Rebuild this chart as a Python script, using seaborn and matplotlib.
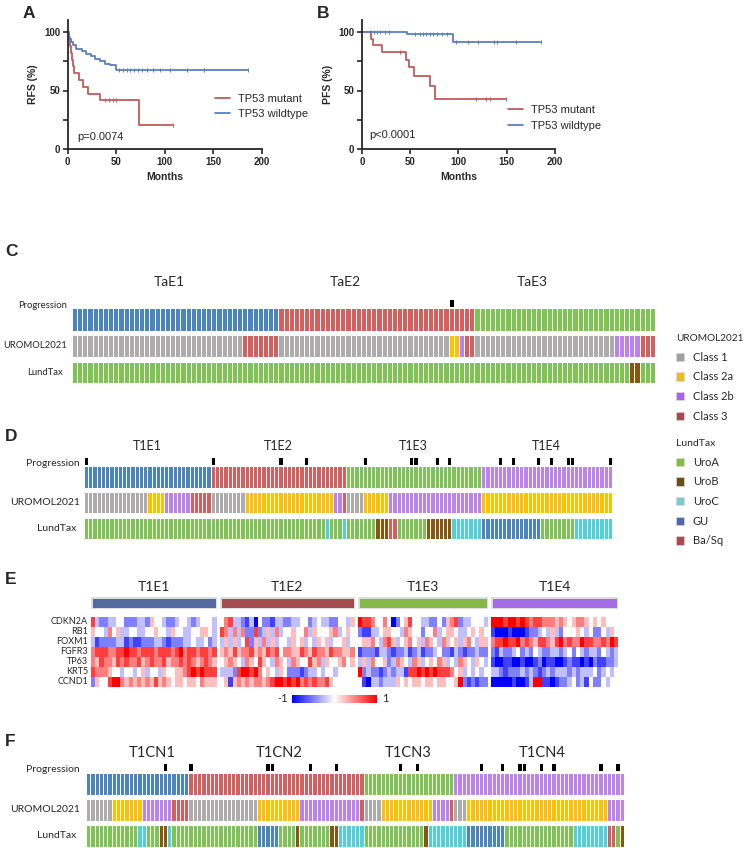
import numpy as np
import pandas as pd
import matplotlib
matplotlib.use("Agg")
import matplotlib.pyplot as plt
import seaborn as sns
from matplotlib.colors import ListedColormap
from matplotlib.patches import Patch
from matplotlib.lines import Line2D

# ---- A/B: Kaplan-Meier step data (months, % event free) ----
rfs_mut_t = [0, 1, 2, 3, 4, 5, 6.5, 11.5, 16, 21, 33, 73]
rfs_mut_s = [100, 94, 88, 82, 76, 71, 65, 59, 53, 47, 41.8, 20.9]
rfs_mut_end = 109
rfs_mut_cens = [38, 43, 47, 50, 109]
rfs_wt_t = [0, 0.7, 1.4, 2.1, 3, 5.8, 8.6, 14.4, 18.9, 23.7, 28.2, 33.3, 38.5, 43.6, 49.8]
rfs_wt_s = [100, 98, 96, 94, 91.5, 88.6, 85.8, 83.8, 81.5, 79.3, 77.3, 75, 73, 71.6, 67.9]
rfs_wt_end = 186
rfs_wt_cens = [53, 57, 61, 64, 68, 72, 77, 82, 88, 95, 105, 123, 140, 141, 186]

pfs_mut_t = [0, 9.4, 11, 21.2, 45.9, 48.6, 53.4, 70.5, 76]
pfs_mut_s = [100, 94.3, 88.6, 83, 75.9, 70, 62, 53.7, 42.6]
pfs_mut_end = 149
pfs_mut_cens = [39, 118, 128, 133, 149]
pfs_wt_t = [0, 46.9, 93.8]
pfs_wt_s = [100, 98, 91.8]
pfs_wt_end = 186
pfs_wt_cens = [8, 12, 16, 19, 24, 28, 55, 60, 63, 66, 70, 74, 78, 83, 88, 97,
               110, 120, 137, 140, 160, 186]

# ---- C/D/F: annotation tracks as (category, run length) ----
c_groups = ["TaE1", "TaE2", "TaE3"]
c_sizes = [40, 38, 35]
c_uromol = [("Class 1", 33), ("Class 3", 7), ("Class 1", 33), ("Class 2a", 2),
            ("Class 2b", 1), ("Class 3", 2), ("Class 1", 27), ("Class 2b", 5),
            ("Class 3", 3)]
c_lund = [("UroA", 108), ("UroB", 2), ("UroA", 3)]
c_prog = [73]

d_groups = ["T1E1", "T1E2", "T1E3", "T1E4"]
d_sizes = [30, 32, 32, 31]
d_uromol = [("Class 1", 15), ("Class 2a", 4), ("Class 2b", 6), ("Class 3", 5),
            ("Class 1", 8), ("Class 2a", 21), ("Class 2b", 2), ("Class 3", 1),
            ("Class 1", 4), ("Class 2a", 6), ("Class 2b", 22), ("Class 2a", 31)]
d_lund = [("UroA", 57), ("UroC", 1), ("UroA", 3), ("UroC", 1), ("UroA", 7),
          ("UroB", 3), ("Ba/Sq", 2), ("UroA", 7), ("UroB", 6), ("UroC", 7),
          ("GU", 14), ("UroA", 8), ("UroC", 9)]
d_prog = [0, 30, 46, 52, 66, 77, 78, 83, 86, 98, 101, 107, 110, 114, 115, 124]

f_groups = ["T1CN1", "T1CN2", "T1CN3", "T1CN4"]
f_sizes = [24, 41, 21, 40]
f_uromol = [("Class 1", 6), ("Class 2a", 7), ("Class 2b", 7), ("Class 3", 4),
            ("Class 1", 16), ("Class 2a", 10), ("Class 2b", 14), ("Class 3", 1),
            ("Class 1", 4), ("Class 2a", 12), ("Class 2b", 4), ("Class 3", 1),
            ("Class 1", 3), ("Class 2a", 33), ("Class 2b", 4)]
f_lund = [("UroA", 12), ("UroC", 2), ("UroA", 3), ("UroB", 2), ("UroC", 1),
          ("UroA", 20), ("GU", 5), ("UroA", 4), ("UroB", 1), ("UroA", 7),
          ("UroB", 2), ("UroC", 6), ("UroA", 14), ("UroB", 1), ("UroC", 9),
          ("GU", 9), ("UroA", 16), ("UroC", 8), ("Ba/Sq", 2), ("UroA", 1),
          ("UroB", 1)]
f_prog = [18, 24, 42, 43, 52, 58, 73, 77, 92, 97, 101, 102, 106, 109, 120, 124]

# ---- E: expression, one string per cluster, 0 = -1 ... 4 = 0 ... 8 = +1 ----
genes = ["CDKN2A", "RB1", "FOXM1", "FGFR3", "TP63", "KRT5", "CCND1"]
cdkn2a = ["73223 34422 23325 44322 34432 34443",
          "46733 21304 22133 22334 42343 32244 35",
          "87764 46402 45744 33224 25672 33444 3",
          "88878 87876 77666 56545 66545 45444"]
rb1 = ["54436 45334 43344 54435 44334 45543",
       "76363 62272 35363 44544 63544 45634 54",
       "21133 45544 36544 24463 45543 34545 4",
       "10001 00012 23435 32444 54342 24354"]
foxm1 = ["31222 23312 11222 33212 22334 33423",
         "35353 47253 63534 43545 34354 53445 34",
         "45564 36753 45645 36543 65453 56435 5",
         "67787 78676 57765 78676 68776 67687"]
fgfr3 = ["67776 67787 76777 67776 78677 67767",
         "56575 66756 57674 66557 65766 57665 56",
         "12221 33212 23123 12234 22132 12232 2",
         "21322 34232 43223 32342 43233 24323"]
tp63 = ["65766 57676 67567 66756 67676 56765",
        "45654 36547 54365 43654 47563 54456 45",
        "35364 45236 54365 34546 53436 54354 3",
        "10011 00100 12011 00121 10102 11223"]
krt5 = ["76665 44344 34534 43544 55678 78777",
        "33327 88786 45435 42221 23343 44344 44",
        "82322 12323 31778 78787 77645 34343 4",
        "33212 22323 21232 33323 23334 23434"]
ccnd1 = ["25447 88656 56565 75654 55455 46555",
         "45156 56566 56788 78786 76766 75444 44",
         "41033 23335 45455 45545 54458 21212 2",
         "00000 10013 88110 12234 23142 24344"]
expr_rows = [cdkn2a, rb1, foxm1, fgfr3, tp63, krt5, ccnd1]

# ---- colours ----
cluster_colors = ["#4a85bd", "#d35f5f", "#7dc453", "#bd82ee"]
uromol_names = ["Class 1", "Class 2a", "Class 2b", "Class 3"]
uromol_colors = ["#adabab", "#ffc000", "#bd82ee", "#d35f5f"]
lund_names = ["UroA", "UroB", "UroC", "GU", "Ba/Sq"]
lund_colors = ["#7dc453", "#8a560e", "#4ed1dc", "#4a85bd", "#d35f5f"]
header_colors = ["#5369a0", "#a34c4f", "#86b847", "#a46ce4"]
leg_uromol_colors = ["#a19f9f", "#ecb731", "#a665e6", "#a84d4f"]
leg_lund_colors = ["#86bb49", "#655018", "#7ccbd1", "#4f69a5", "#a84d4f"]
km_colors = {"TP53 mutant": "#c25b5b", "TP53 wildtype": "#5b7fbf"}

sns.set_style("ticks")
plt.rcParams["font.family"] = ["Liberation Sans", "DejaVu Sans"]
TRACK_FONT = ["Lato", "DejaVu Sans"]

W, H = 747, 848
fig = plt.figure(figsize=(W / 100, H / 100), dpi=100)


def add_ax(x0, y0, x1, y1):
    return fig.add_axes([x0 / W, 1 - y1 / H, (x1 - x0) / W, (y1 - y0) / H])


def ftext(x, y, s, **kw):
    fig.text(x / W, 1 - y / H, s, **kw)


def step_at(times, surv, t):
    i = np.searchsorted(times, t, side="right") - 1
    return surv[i]


def km_panel(ax, curves, ylabel, ptext, p_xy, leg_anchor):
    frames = []
    for label, t, s, end, cens in curves:
        frames.append(pd.DataFrame({"Months": t + [end], "pct": s + [s[-1]], "group": label}))
    df = pd.concat(frames, ignore_index=True)
    sns.lineplot(data=df, x="Months", y="pct", hue="group", palette=km_colors,
                 drawstyle="steps-post", estimator=None, sort=False,
                 linewidth=1.3, ax=ax, legend=False)
    for label, t, s, end, cens in curves:
        cy = [step_at(t, s, c) for c in cens]
        sns.scatterplot(x=cens, y=cy, marker="|", s=10, color=km_colors[label],
                        linewidth=0.7, ax=ax, legend=False, clip_on=False)
    ax.set_xlim(0, 200)
    ax.set_ylim(0, 110)
    ax.set_xticks([0, 50, 100, 150, 200])
    ax.set_yticks([0, 25, 50, 75, 100])
    ax.set_yticklabels(["0", "", "50", "", "100"])
    for lab in ax.get_xticklabels() + ax.get_yticklabels():
        lab.set_fontweight("bold")
    ax.tick_params(labelsize=7, width=1.2, length=3.5, pad=2)
    ax.set_xlabel("Months", fontsize=7.5, fontweight="bold", labelpad=4)
    ax.set_ylabel(ylabel, fontsize=7.5, fontweight="bold", labelpad=4)
    sns.despine(ax=ax)
    for sp in ["left", "bottom"]:
        ax.spines[sp].set_linewidth(1.3)
    ax.text(p_xy[0], p_xy[1], ptext, transform=ax.transAxes, fontsize=8,
            va="center", ha="left")
    handles = [Line2D([], [], color=km_colors[k], lw=1.3) for k in km_colors]
    ax.legend(handles, list(km_colors), loc="center left", bbox_to_anchor=leg_anchor,
              frameon=False, fontsize=8, handlelength=1.35, handletextpad=0.7,
              labelspacing=0.5, borderaxespad=0)


def expand(runs):
    out = []
    for name, n in runs:
        out += [name] * n
    return out


def draw_track(ax, codes, colors):
    sns.heatmap(np.array([codes]), ax=ax, cmap=ListedColormap(colors),
                vmin=-0.5, vmax=len(colors) - 0.5, cbar=False,
                linewidths=0.7, linecolor="white",
                xticklabels=False, yticklabels=False)


def track_panel(x0, x1, rows_y, groups, sizes, uromol, lund, prog,
                label_y, label_fs, label_dx, pad, row_fs):
    n = sum(sizes)
    cl_codes = []
    for i, k in enumerate(sizes):
        cl_codes += [i] * k
    ur_codes = [uromol_names.index(v) for v in expand(uromol)]
    ld_codes = [lund_names.index(v) for v in expand(lund)]

    (m0, m1), (c0, c1), (u0, u1), (l0, l1) = rows_y
    axm = add_ax(x0, m0, x1, m1)
    flags = np.zeros(n)
    flags[prog] = 1
    sns.heatmap(flags[None, :], mask=(flags == 0)[None, :], ax=axm,
                cmap=ListedColormap(["black"]), vmin=0, vmax=1, cbar=False,
                linewidths=0.7, linecolor="white",
                xticklabels=False, yticklabels=False)
    draw_track(add_ax(x0, c0, x1, c1), cl_codes, cluster_colors[:len(sizes)])
    draw_track(add_ax(x0, u0, x1, u1), ur_codes, uromol_colors)
    draw_track(add_ax(x0, l0, x1, l1), ld_codes, lund_colors)

    cw = (x1 - x0) / n
    start = 0
    for g, k, dx in zip(groups, sizes, label_dx):
        ftext(x0 + (start + k / 2) * cw + dx, label_y, g, ha="center", va="center",
              fontsize=label_fs, family=TRACK_FONT)
        start += k
    ftext(x0 - pad, (m0 + m1) / 2 + 2, "Progression", ha="right", va="center",
          fontsize=row_fs, family=TRACK_FONT)
    ftext(x0 - pad, (u0 + u1) / 2, "UROMOL2021", ha="right", va="center",
          fontsize=row_fs, family=TRACK_FONT)
    ftext(x0 - pad - 4, (l0 + l1) / 2, "LundTax", ha="right", va="center",
          fontsize=row_fs, family=TRACK_FONT)


# ---- A and B ----
axA = add_ax(67.7, 20.3, 261.7, 149)
km_panel(axA,
         [("TP53 mutant", rfs_mut_t, rfs_mut_s, rfs_mut_end, rfs_mut_cens),
          ("TP53 wildtype", rfs_wt_t, rfs_wt_s, rfs_wt_end, rfs_wt_cens)],
         "RFS (%)", "p=0.0074", (0.05, 0.09), (0.735, 0.33))
axB = add_ax(362, 20.3, 555, 149)
km_panel(axB,
         [("TP53 mutant", pfs_mut_t, pfs_mut_s, pfs_mut_end, pfs_mut_cens),
          ("TP53 wildtype", pfs_wt_t, pfs_wt_s, pfs_wt_end, pfs_wt_cens)],
         "PFS (%)", "p<0.0001", (0.04, 0.11), (0.735, 0.24))

letter_kw = dict(fontsize=12.5, fontweight="bold", va="center", ha="left")
ftext(23, 13, "A", **letter_kw)
ftext(317, 13, "B", **letter_kw)

# ---- C, D, F ----
ftext(5, 252, "C", **letter_kw)
track_panel(72, 655, [(299, 307), (308, 331), (335, 357), (362, 383)],
            c_groups, c_sizes, c_uromol, c_lund, c_prog, 282, 10, [-6, -31, -32], 5, 6.8)
ftext(5, 436, "D", **letter_kw)
track_panel(84, 612, [(457, 465), (466, 488), (492, 513), (518, 539)],
            d_groups, d_sizes, d_uromol, d_lund, d_prog, 446, 9, [0, 0, 0, 0], 4, 7.5)
ftext(5, 742, "F", **letter_kw)
track_panel(86, 624, [(763, 771), (773, 795), (799, 821), (825, 847)],
            f_groups, f_sizes, f_uromol, f_lund, f_prog, 753, 10.5, [15, 3, 0, 4], 6, 7.5)

# ---- E ----
ftext(5, 580, "E", **letter_kw)
e_spans = [(91, 216.6), (220, 354.5), (358, 487.7), (490.7, 618.4)]
cax = add_ax(292, 695, 377, 703)
for k, (xa, xb) in enumerate(e_spans):
    axh = add_ax(xa, 597, xb, 609)
    sns.heatmap(np.array([[0]]), ax=axh, cmap=ListedColormap([header_colors[k]]),
                cbar=False, linewidths=1, linecolor="#dddddd",
                xticklabels=False, yticklabels=False)
    ftext((xa + xb) / 2, 587, d_groups[k], ha="center", va="center",
          fontsize=10, family=TRACK_FONT)
    mat = np.array([[int(ch) / 4 - 1 for ch in row[k].replace(" ", "")]
                    for row in expr_rows])
    axe = add_ax(xa, 617, xb, 687)
    last = k == len(e_spans) - 1
    sns.heatmap(mat, ax=axe, cmap="bwr", vmin=-1, vmax=1,
                cbar=last, cbar_ax=cax if last else None,
                cbar_kws={"orientation": "horizontal"} if last else None,
                xticklabels=False, yticklabels=genes if k == 0 else False)
    if k == 0:
        axe.set_yticklabels(genes, rotation=0, fontsize=6.5, family=TRACK_FONT)
        axe.tick_params(axis="y", length=0, pad=2)
    if last:
        axe.collections[0].colorbar.outline.set_visible(False)
cax.set_xticks([])
cax.set_yticks([])
ftext(288, 699, "-1", ha="right", va="center", fontsize=8, family=TRACK_FONT)
ftext(382, 699, "1", ha="left", va="center", fontsize=8, family=TRACK_FONT)

# ---- legends ----
leg_kw = dict(loc="upper left", frameon=False, title_fontsize=7.5,
              alignment="left", handlelength=0.75, handleheight=0.75,
              handletextpad=0.75, labelspacing=0.78, borderpad=0, borderaxespad=0,
              prop={"family": TRACK_FONT, "size": 8})
leg1 = fig.legend([Patch(facecolor=c, edgecolor="#d8d8d8", lw=0.5) for c in leg_uromol_colors],
                  uromol_names, title="UROMOL2021",
                  bbox_to_anchor=(676 / W, 1 - 334 / H), **leg_kw)
leg1.get_title().set_family(TRACK_FONT)
leg1.get_title().set_fontsize(7.2)
leg2 = fig.legend([Patch(facecolor=c, edgecolor="#d8d8d8", lw=0.5) for c in leg_lund_colors],
                  lund_names, title="LundTax",
                  bbox_to_anchor=(676 / W, 1 - 439 / H), **leg_kw)
leg2.get_title().set_family(TRACK_FONT)

fig.savefig("out.png", dpi=100, facecolor="white")
